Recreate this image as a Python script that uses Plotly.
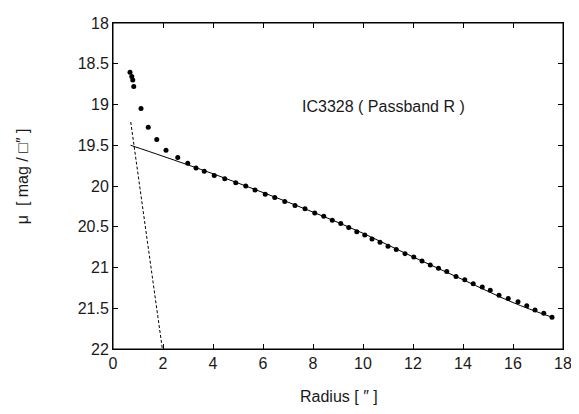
import plotly.graph_objects as go

# Observed surface-brightness profile (radius in arcsec, mu in mag/arcsec^2)
radius = [0.68, 0.75, 0.79, 0.83, 1.12, 1.41, 1.75, 2.12, 2.59, 2.99, 3.32,
          3.65, 4.05, 4.47, 4.91, 5.31, 5.68, 6.09, 6.47, 6.87, 7.28, 7.68, 8.07,
          8.43, 8.77, 9.11, 9.43, 9.75, 10.07, 10.36, 10.68, 11.00, 11.33, 11.68,
          12.03, 12.36, 12.69, 13.02, 13.35, 13.72, 14.07, 14.41, 14.77, 15.09,
          15.44, 15.81, 16.20, 16.55, 16.88, 17.23, 17.56]
mu = [18.605, 18.657, 18.70, 18.78, 19.05, 19.28, 19.43, 19.56, 19.65, 19.72, 19.78,
      19.82, 19.87, 19.91, 19.96, 20.00, 20.05, 20.10, 20.14, 20.19, 20.24, 20.28, 20.33,
      20.37, 20.42, 20.46, 20.51, 20.56, 20.60, 20.65, 20.69, 20.74, 20.78, 20.83,
      20.87, 20.92, 20.97, 21.01, 21.05, 21.11, 21.15, 21.20, 21.24, 21.28,
      21.34, 21.38, 21.42, 21.47, 21.52, 21.56, 21.61]

# Disk model (solid) and bulge model (dashed)
disk_r = [0.70, 2.0, 4.0, 6.0, 8.0, 10.0, 12.0, 14.0, 16.0, 17.56]
disk_mu = [19.50, 19.635, 19.85, 20.08, 20.32, 20.58, 20.87, 21.15, 21.43, 21.61]
bulge_r = [0.71, 1.975]
bulge_mu = [19.215, 22.0]

x_ticks = [0, 2, 4, 6, 8, 10, 12, 14, 16, 18]
y_ticks = [18, 18.5, 19, 19.5, 20, 20.5, 21, 21.5, 22]
y_tick_labels = ["18", "18.5", "19", "19.5", "20", "20.5", "21", "21.5", "22"]

FONT = "Liberation Sans, Arial, Helvetica, sans-serif"
TXT = "#1a1a1a"

fig = go.Figure()
fig.add_trace(go.Scatter(x=bulge_r, y=bulge_mu, mode="lines",
                         line=dict(color="black", width=1, dash="3px,2px"),
                         showlegend=False, hoverinfo="skip"))
fig.add_trace(go.Scatter(x=disk_r, y=disk_mu, mode="lines",
                         line=dict(color="black", width=1, shape="spline"),
                         showlegend=False, hoverinfo="skip"))
fig.add_trace(go.Scatter(x=radius, y=mu, mode="markers",
                         marker=dict(color="black", size=5),
                         showlegend=False))

axis_common = dict(showgrid=False, zeroline=False, showline=True, linecolor="black",
                   linewidth=1, mirror="ticks", ticks="inside", ticklen=5,
                   tickcolor="black", tickwidth=1, ticklabeloverflow="allow",
                   tickfont=dict(family=FONT, size=16, color=TXT))

# page body has an 8px margin, so the figure is sized/offset to compensate
fig.update_layout(
    width=571, height=406,
    margin=dict(l=105, r=16, t=7, b=65),
    paper_bgcolor="white", plot_bgcolor="white",
    xaxis=dict(range=[0, 18], tickvals=x_ticks, **axis_common),
    yaxis=dict(range=[22, 18], tickvals=y_ticks, ticktext=y_tick_labels, **axis_common),
    shapes=[dict(type="rect", xref="paper", yref="paper", x0=0, x1=1, y0=0, y1=1,
                 line=dict(color="black", width=1), layer="above")],
    annotations=[
        dict(text="IC3328 ( Passband R )", x=10.8, y=19.03, xref="x", yref="y",
             showarrow=False, font=dict(family=FONT, size=16, color=TXT)),
        dict(text="Radius [ \u2033 ]", x=0.5, y=0, xref="paper", yref="paper",
             xanchor="center", yanchor="middle", yshift=-47, xshift=1,
             showarrow=False, font=dict(family=FONT, size=16, color=TXT)),
        dict(text="\u03bc  [ mag / \u25a1\u2033 ]", x=0, y=0.53, xref="paper", yref="paper",
             xanchor="center", yanchor="middle", xshift=-91, textangle=-90,
             showarrow=False, font=dict(family=FONT, size=16, color=TXT)),
    ],
)

fig.write_html("out.html")
